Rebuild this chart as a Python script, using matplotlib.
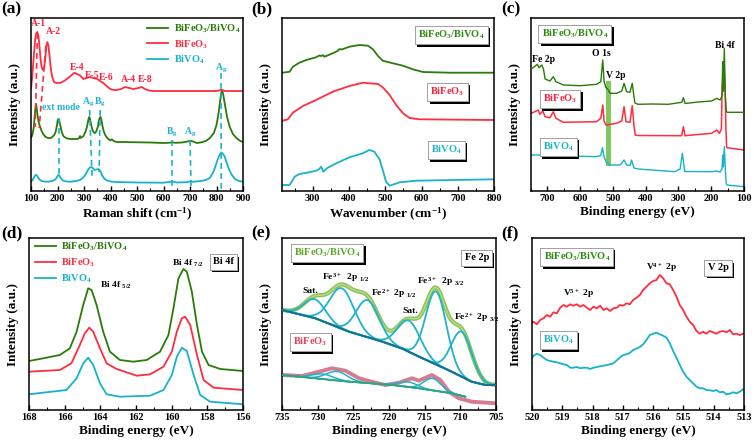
import numpy as np
import matplotlib
matplotlib.use("Agg")
import matplotlib.pyplot as plt
import matplotlib.patheffects as pe
from matplotlib.ticker import MultipleLocator

plt.rcParams['font.family'] = ['Liberation Serif', 'DejaVu Serif']
plt.rcParams['font.weight'] = 'bold'
plt.rcParams['axes.labelweight'] = 'bold'
plt.rcParams['mathtext.default'] = 'regular'

GREEN = '#2a7b0a'
RED = '#ff2d3f'
CYAN = '#17b2ca'
GREEN_T = '#2e8b0f'
RED_T = '#ff1f3d'
CYAN_T = '#1cb5d0'

LBL_COMP = 'BiFeO$_3$/BiVO$_4$'
LBL_BFO = 'BiFeO$_3$'
LBL_BVO = 'BiVO$_4$'

# ---------------- (a) Raman ----------------
a_bfo_x = [100,104,108,112,116,120,124,128,132,136,140,145,150,154,158,162,166,170,175,180,187,195,210,225,240,254,262,266,272,283,298,310,320,336,350,360,373,385,399,412,424,440,455,470,487,505,518,530,545,560,600,700,800,815,822,830,900]
a_bfo_y = [102.7,112,126,140,152,158,159,155,145,132,124,121,124,133,145,149,145,135,122,114,109,108,108,110,113,116,118,118,117,116,112,113,114,113,112,110,108,105,102,101,101,102,104,103,102,103,104,102,100.5,100,100,100,100,101,101,100,100]
a_comp_x = [100,105,110,114,117,119,121,124,128,132,136,140,146,155,165,175,180,188,194,198,201,204,207,211,216,222,232,245,260,275,282,285,288,293,298,305,310,314,317,320,323,327,332,337,342,347,352,356,359,362,365,369,374,380,388,399,405,412,424,450,500,550,600,625,633,645,670,690,700,712,725,740,760,775,790,800,808,815,820,825,832,840,850,862,875,890,900]
a_comp_y = [52.7,56,63,75,84,87,84,77,70,66,63,60,57,54,53,53,54,56,60,66,71,72,70,65,59,55,53,52,52,52,53,55,53,54,55,59,63,68,72,74,72,66,61,58.5,58,60,64,70,73,74,72,66,60,56,53,50.5,51.7,50,49,49,48.7,48.5,48,48.3,48.7,48.2,48.5,49.5,50.2,49.5,48,48.5,50,53,58,66,78,93,101,97,86,74,64,57,53,50,49]
a_bvo_x = [100,106,112,117,121,126,132,140,150,165,180,192,198,203,207,212,220,232,250,270,285,295,303,310,316,322,327,333,340,347,354,359,364,370,378,388,400,420,500,600,633,650,690,700,710,740,760,775,790,800,808,816,822,830,840,848,858,870,885,900]
a_bvo_y = [9.3,11,14,16,16,14,11.5,10,9.5,9.3,10,11.5,14,16,15.5,13,10.5,9.5,9.3,10,11,13,15.5,18.5,21.5,23.5,24,23,21,21.5,22,21,18.5,15,12,10.5,9.5,9,8.5,8.3,9.5,8.5,8.8,9.8,9.2,10,11,13,20,28,34,38,38,35,27,21,16,12,10,9.3]
a_red_dash = [[(124, 158), (116, 64)], [(156, 145), (131, 63)]]
a_cyan_dash = [[(205, 73), (205, 16)], [(321, 81), (331, 11)], [(361, 81), (357, 19)],
               [(633, 51), (633, 3)], [(700, 51), (704, 5)], [(817, 118), (818, 0)]]
a_red_labels = [('A-1', 129, 167), ('A-2', 186, 160), ('E-4', 272, 124), ('E-5', 329, 116),
                ('E-6', 383, 113), ('A-4', 467, 111), ('E-8', 531, 111)]
a_cyan_labels = [('ext mode', 213, 83), ('A$_g$', 315, 89), ('B$_g$', 360, 89),
                 ('B$_g$', 633, 59), ('A$_g$', 700, 59), ('A$_g$', 817, 123)]

# ---------------- (b) UV-vis ----------------
b_comp_x = [217,236,245,263,282,309,318,323,328,332,355,368,374,380,401,429,452,466,480,493,521,549,576,604,678,800]
b_comp_y = [118.3,119.3,124.3,128.3,131,133.7,135.5,135,135.8,134.3,137.7,140,142,141.5,144.3,146,145.3,141.7,135,130.3,127.7,125.3,121.7,119,118.3,118.3]
b_bfo_x = [217,231,245,273,309,355,401,438,456,480,493,512,530,549,567,595,800]
b_bfo_y = [70.3,71.7,78.3,85,91,99.3,105,108.3,107.7,107,103.7,96,86,77.7,73,71.7,71]
b_bvo_x = [217,236,243,250,263,280,300,309,318,323,329,340,365,401,438,456,470,484,493,502,512,540,586,800]
b_bvo_y = [6,6,10,14.3,17,18,19.5,20.3,22,24.3,19.3,23,27.7,33.7,37.7,41,39.3,31.7,21,9.3,5.3,8.7,10.3,11.7]

# ---------------- (c) XPS survey ----------------
c_comp_x = [750,743,731,725,717,712,707,692,682,674,651,600,550,537,531,527,521,514,509,489,473,466,458,448,441,436,433,423,380,331,290,285,280,240,199,183,173,167,165,163,160,157,154,152,100]
c_comp_y = [122.7,123.3,126.7,123.3,126,122,112,110,114.3,109.3,106,105.3,106.7,109.3,131,109.3,103.3,101,97.7,97.7,100,107.7,99.3,98.7,107.7,95,88,86.7,87,86.7,88.7,93.3,87.5,89,90,92.7,91,95,129.3,100,142.7,95,80,78.7,78.7]
c_bfo_x = [750,738,728,723,714,707,692,682,674,651,550,537,531,527,521,489,473,466,460,448,441,436,432,423,290,285,280,199,183,175,169,167,165,163.5,162,160,158.5,157,155,153,152,100]
c_bfo_y = [77.7,79.3,81,76.7,80,74.3,73.3,79.3,72.7,68.7,69.3,72.7,86,70,66,67.7,70,84.3,69.3,68.7,85.3,66,56,55.5,55.3,64.3,55.3,57.7,61,57.7,62,98,112,100,108,121,104,92,60,44,43.3,41]
c_bvo_x = [750,692,684,676,550,537,532,527,521,509,478,466,458,448,443,436,423,311,295,288,281,199,183,173,167,165,163,160,157,154,152,100]
c_bvo_y = [36,36,37.7,35.5,34.3,35.5,43.3,34,29.3,26,26,31,26,25.5,31,23,22,19.3,22,37.7,19.5,19.3,20,19,22,36,24,44.3,22,7,6,4.3]
c_band_x = [521, 506]
c_band_y = [25, 110]
c_boxes = [(LBL_COMP, 616, 157, GREEN_T), (LBL_BFO, 661, 92, RED_T), (LBL_BVO, 667, 44, CYAN_T)]
c_peaks = [('Fe 2p', 712, 132), ('O 1s', 534, 138), ('V 2p', 491, 116), ('Bi 4f', 160, 146)]

# ---------------- (d) Bi 4f ----------------
d_comp_x = [168,167.2,166.27,165.71,165.33,164.96,164.68,164.49,164.21,163.84,163.46,162.9,162.15,161.4,160.65,160.18,159.9,159.62,159.34,159.15,158.87,158.58,158.3,157.93,157.27,156]
d_comp_y = [49,51.7,55,61.7,78.3,105,121.7,120,105,78.3,58.3,50,48.3,50,58.3,75,101.7,131.7,141,138.3,118.3,85,58.3,45,41,39]
d_bfo_x = [168,166.27,165.62,165.15,164.87,164.62,164.4,164.02,163.65,163.09,161.96,161.21,160.46,159.99,159.71,159.43,159.24,158.96,158.58,158.21,157.65,156]
d_bfo_y = [38.3,40,46.7,65,76.7,82.3,78.3,61.7,46.7,41,34.3,35.7,43.3,58.3,78.3,91.7,93.3,85,55,30,22.3,20]
d_bvo_x = [168,165.9,165.33,164.96,164.68,164.4,164.02,163.65,162.9,161.21,160.46,159.99,159.71,159.43,159.15,158.77,158.4,157.84,156]
d_bvo_y = [15.7,20,31.7,46.7,52.3,45,26.7,15.7,13.3,14.3,20,35,53.3,62.3,59,35,15,8.3,5.7]

# ---------------- (e) Fe 2p ----------------
e_bg_x = [735,730.3,725.6,720.9,718,715.8,711.2,708.4,706.5,705]
e_bg_y = [100,91.7,78.3,68.3,61,53.3,38.3,28.3,25,25]
e_center = [730.4,726.6,723.0,717.2,713.4,709.8]
e_height = [19,40.5,37,31,73,45]
e_fwhm = [3.6,4.0,3.8,3.8,3.4,3.4]
e2_bg_x = [735,730.3,725.6,719.5,715.8,711.2,709.3]
e2_bg_y = [35,31.7,28.3,25,21.7,16.7,13.3]
e2_env_x = [735,732.2,729.8,728,726.1,724.2,721.9,720.5,718.6,716.8,715.8,714,712.8,711.6,710.2,708.4,705]
e2_env_y = [35,34,38.3,41.7,39.3,31.7,27.3,25,27.3,31.7,29.3,35,30,18.3,11.7,8.3,6.7]
e2_center = [729.3,727.3,717.3,713.9]
e2_height = [5,9,5,12]
e2_fwhm = [3.5,3.5,3.0,2.8]
e_labels = [('Sat.', 731, 119), ('Fe$^{3+}$  2p $_{1/2}$', 726.1, 132), ('Fe$^{2+}$ 2p $_{1/2}$', 719.3, 117),
            ('Sat.', 717, 99), ('Fe$^{3+}$  2p $_{3/2}$', 712.8, 128), ('Fe$^{2+}$ 2p $_{3/2}$', 707.7, 92)]

# ---------------- (f) V 2p ----------------
f_x = [520.0,519.95,519.84,519.73,519.62,519.51,519.40,519.29,519.18,519.07,518.96,518.85,518.74,518.63,518.52,518.41,518.30,518.19,518.08,517.97,517.86,517.75,517.64,517.53,517.42,517.31,517.20,517.10,516.99,516.88,516.77,516.66,516.55,516.44,516.33,516.22,516.11,516.00,515.89,515.78,515.67,515.56,515.45,515.34,515.23,515.12,515.01,514.90,514.79,514.68,514.57,514.46,514.35,514.24,514.13,514.02,513.91,513.80,513.69,513.58,513.47,513.36,513.25,513.14,513.03]
f_comp_y = [86.7,88.3,85.7,90,91.7,95,93.3,97.7,96.7,102.3,105,103.3,105.7,104.3,105.7,103.3,105,102.3,100,103.3,101.7,104.3,100,101.7,99,101.7,102.3,105,104.3,106.7,105.7,110,112.3,115,120,123.3,126.7,129,130,135,131.7,126.7,125.7,120,113.3,105,100,93.3,88.3,85,79,76.3,78.3,76.3,79,77.7,76.3,78.3,79,77.7,80,75.7,76.3,75,76.3]
f_bvo_y = [52,54.3,56.3,55,52.3,50,49,48.3,47.7,46.7,45.7,45,42.3,42.3,43,41.7,42.3,42.3,41,42.3,43,43.7,44.3,45,45.7,46.7,49.7,52.3,55,55.7,57,60,61.3,63,65.7,70,75,76.3,77.3,75.7,74.3,72.3,66.7,59,52.3,45,38.3,33.3,30,26.7,23.3,21.7,21.7,20,19.7,19,20,17.7,18.3,15.7,16.3,17.7,16.7,18.3,20.7]
f_labels = [('V$^{5+}$ 2p', 518.47, 117), ('V$^{4+}$ 2p', 515.72, 142)]

# ============== figure ==============
W, H = 754, 446
fig = plt.figure(figsize=(W / 100, H / 100), dpi=100)


def make_ax(l, r, t, b):
    return fig.add_axes([l / W, (H - b) / H, (r - l) / W, (b - t) / H])


def style(ax, xlim, ylim, major, minor, xlabel):
    ax.set_xlim(*xlim)
    ax.set_ylim(*ylim)
    ax.set_yticks([])
    ax.xaxis.set_major_locator(MultipleLocator(major))
    ax.xaxis.set_minor_locator(MultipleLocator(minor))
    ax.tick_params(axis='x', which='both', direction='in', top=False, labelsize=7.5, pad=2.5)
    ax.tick_params(axis='x', which='major', length=3.5, width=1)
    ax.tick_params(axis='x', which='minor', length=2, width=0.8)
    for lab in ax.get_xticklabels():
        lab.set_fontweight('bold')
    for s in ax.spines.values():
        s.set_linewidth(1.1)
    ax.set_xlabel(xlabel, fontsize=9.5, fontweight='bold', labelpad=2)
    ax.set_ylabel('Intensity (a.u.)', fontsize=9.5, fontweight='bold')
    ax.yaxis.set_label_coords(-0.045, 0.5)


def boxlabel(ax, x, y, s, color, fs=7.5):
    t = ax.text(x, y, s, color=color, ha='center', va='center', fontsize=fs, fontweight='bold',
                bbox=dict(boxstyle='square,pad=0.3', fc='white', ec='#9a9a9a', lw=0.6), zorder=6)
    t.get_bbox_patch().set_path_effects([pe.withSimplePatchShadow(offset=(1.6, -1.6), shadow_rgbFace='black', alpha=1.0), pe.Normal()])
    return t


def panel_letter(x, y, s):
    fig.text(x / W, 1 - y / H, s, fontsize=12.5, fontweight='bold', va='top', ha='left')


# (a)
ax = make_ax(31, 243, 18, 191)
lc, = ax.plot(a_comp_x, a_comp_y, color=GREEN, lw=1.3, label=LBL_COMP)
lr, = ax.plot(a_bfo_x, a_bfo_y, color=RED, lw=1.3, label=LBL_BFO)
lb, = ax.plot(a_bvo_x, a_bvo_y, color=CYAN, lw=1.3, label=LBL_BVO)
for seg in a_red_dash:
    ax.plot([seg[0][0], seg[1][0]], [seg[0][1], seg[1][1]], color=RED, lw=1.2, ls=(0, (3.5, 2.5)))
for seg in a_cyan_dash:
    ax.plot([seg[0][0], seg[1][0]], [seg[0][1], seg[1][1]], color=CYAN, lw=1.2, ls=(0, (3.5, 2.5)))
for s, x, y in a_red_labels:
    ax.text(x, y, s, color=RED_T, fontsize=7, fontweight='bold', ha='center', va='center')
for s, x, y in a_cyan_labels:
    ax.text(x, y, s, color=CYAN_T, fontsize=7, fontweight='bold', ha='center', va='center')
ax.legend(handles=[lc, lr, lb], loc='upper left', bbox_to_anchor=(0.515, 1.015), frameon=False,
          fontsize=7.5, handlelength=2.0, handletextpad=0.5, labelspacing=0.28,
          labelcolor='linecolor', borderaxespad=0.3)
style(ax, (100, 900), (0, 173), 100, 50, 'Raman shift (cm$^{-1}$)')
panel_letter(1, 1, '(a)')

# (b)
ax = make_ax(282, 494, 18, 191)
ax.plot(b_comp_x, b_comp_y, color=GREEN, lw=1.3)
ax.plot(b_bfo_x, b_bfo_y, color=RED, lw=1.3)
ax.plot(b_bvo_x, b_bvo_y, color=CYAN, lw=1.3)
boxlabel(ax, 683, 156, LBL_COMP, GREEN_T)
boxlabel(ax, 672, 99, LBL_BFO, RED_T)
boxlabel(ax, 669, 41, LBL_BVO, CYAN_T)
style(ax, (215, 800), (0, 173), 100, 50, 'Wavenumber (cm$^{-1}$)')
panel_letter(251, 1, '(b)')

# (c)
ax = make_ax(531, 744, 18, 191)
ax.fill_between(c_band_x, [c_band_y[0]] * 2, [c_band_y[1]] * 2, color='#56b526', alpha=0.75, lw=0, zorder=1)
ax.plot(c_bfo_x, c_bfo_y, color=RED, lw=1.1, zorder=2)
ax.plot(c_comp_x, c_comp_y, color=GREEN, lw=1.0, zorder=3)
ax.plot(c_bvo_x, c_bvo_y, color=CYAN, lw=1.0, zorder=2)
for s, x, y, col in c_boxes:
    boxlabel(ax, x, y, s, col)
for s, x, y in c_peaks:
    ax.text(x, y, s, fontsize=7, fontweight='bold', ha='center', va='center')
style(ax, (750, 100), (0, 173), 100, 50, 'Binding energy (eV)')
panel_letter(501, 1, '(c)')

# (d)
ax = make_ax(29, 243, 238, 410)
lc, = ax.plot(d_comp_x, d_comp_y, color=GREEN, lw=1.3, label=LBL_COMP)
lr, = ax.plot(d_bfo_x, d_bfo_y, color=RED, lw=1.3, label=LBL_BFO)
lb, = ax.plot(d_bvo_x, d_bvo_y, color=CYAN, lw=1.3, label=LBL_BVO)
ax.legend(handles=[lc, lr, lb], loc='upper left', bbox_to_anchor=(-0.005, 1.025), frameon=False,
          fontsize=7.5, handlelength=2.0, handletextpad=0.5, labelspacing=0.3,
          labelcolor='linecolor', borderaxespad=0.3)
ax.text(163.1, 125, 'Bi 4f $_{5/2}$', fontsize=6.8, fontweight='bold', ha='center', va='center')
ax.text(159.06, 147, 'Bi 4f $_{7/2}$', fontsize=6.8, fontweight='bold', ha='center', va='center')
boxlabel(ax, 157.1, 148, 'Bi 4f', 'black', fs=7.5)
style(ax, (168, 156), (0, 172), 2, 1, 'Binding energy (eV)')
panel_letter(1, 225, '(d)')

# (e)
ax = make_ax(282, 496, 238, 410)
xg = np.linspace(705, 735, 500)
bg = np.interp(xg, e_bg_x[::-1], e_bg_y[::-1])
env = bg.copy()
comps = []
for c, h, w in zip(e_center, e_height, e_fwhm):
    g = h * np.exp(-0.5 * ((xg - c) / (w / 2.3548)) ** 2)
    comps.append(g)
    env = env + g
ax.plot(xg, env, color='#8cc152', lw=3.0, zorder=2)
ax.plot(xg, env, color='#b5dc8e', lw=1.0, zorder=2)
for g in comps:
    ax.plot(xg, bg + g, color='#1db3cc', lw=1.3, zorder=3)
ax.plot(e_bg_x, e_bg_y, color='#17708f', lw=1.4, zorder=3)

xg2 = np.linspace(709.3, 735, 400)
bg2 = np.interp(xg2, e2_bg_x[::-1], e2_bg_y[::-1])
ax.plot(e2_env_x, e2_env_y, color='#d97b8f', lw=2.8, zorder=2)
for c, h, w in zip(e2_center, e2_height, e2_fwhm):
    g = h * np.exp(-0.5 * ((xg2 - c) / (w / 2.3548)) ** 2)
    ax.plot(xg2, bg2 + g, color='#1db3cc', lw=1.1, zorder=3)
ax.plot(e2_bg_x, e2_bg_y, color='#2ea67a', lw=1.3, zorder=3)
for s, x, y in e_labels:
    ax.text(x, y, s, fontsize=6.8, fontweight='bold', ha='center', va='center', zorder=5)
boxlabel(ax, 728.7, 157, LBL_COMP, '#5aa82a')
boxlabel(ax, 731, 68, LBL_BFO, '#e8405a')
boxlabel(ax, 707.7, 152, 'Fe 2p', 'black')
style(ax, (735, 705), (0, 172), 5, 2.5, 'Binding energy (eV)')
panel_letter(251, 225, '(e)')

# (f)
ax = make_ax(532, 744, 238, 410)
ax.plot(f_x, f_comp_y, color=RED, lw=1.3)
ax.plot(f_x, f_bvo_y, color=CYAN, lw=1.3)
for s, x, y in f_labels:
    ax.text(x, y, s, fontsize=6.8, fontweight='bold', ha='center', va='center')
boxlabel(ax, 518.52, 153, LBL_COMP, GREEN_T)
boxlabel(ax, 519.12, 70, LBL_BVO, CYAN_T)
boxlabel(ax, 513.86, 142, 'V 2p', 'black')
style(ax, (520, 513), (0, 172), 1, 0.5, 'Binding energy (eV)')
panel_letter(501, 225, '(f)')

fig.savefig('out.png', dpi=100)
